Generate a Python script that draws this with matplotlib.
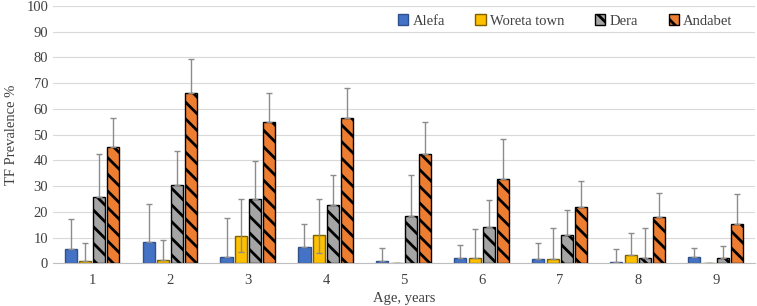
import matplotlib.pyplot as plt
import numpy as np

plt.rcParams['font.family'] = ['Liberation Serif', 'DejaVu Serif']
plt.rcParams['hatch.linewidth'] = 2.0

ages = [1, 2, 3, 4, 5, 6, 7, 8, 9]
series = ["Alefa", "Woreta town", "Dera", "Andabet"]

alefa = [5.6, 8.2, 2.5, 6.5, 0.8, 2.2, 1.8, 0.7, 2.4]
woreta = [1.0, 1.3, 10.7, 11.0, 0.0, 2.0, 1.8, 3.2, 0.0]
dera = [25.6, 30.3, 25.0, 22.5, 18.4, 14.1, 11.1, 2.2, 2.2]
andabet = [45.3, 66.0, 55.0, 56.5, 42.3, 32.7, 21.7, 18.1, 15.3]

# upper / lower limits of the error bars
alefa_hi = [17.2, 23.0, 17.6, 15.2, 6.0, 7.0, 7.8, 5.5, 5.9]
woreta_hi = [8.0, 9.0, 25.0, 25.0, 0.0, 13.2, 13.7, 11.6, 0.0]
dera_hi = [42.4, 43.5, 39.6, 34.3, 34.3, 24.4, 20.6, 13.6, 6.6]
andabet_hi = [56.3, 79.5, 66.0, 68.0, 54.7, 48.1, 32.1, 27.4, 26.8]
woreta_lo = [1.0, 1.3, 4.5, 4.0, 0.0, 2.0, 1.8, 3.2, 0.0]

values = [alefa, woreta, dera, andabet]
highs = [alefa_hi, woreta_hi, dera_hi, andabet_hi]
lows = [alefa, woreta_lo, dera, andabet]

colors = ["#4472C4", "#FFC000", "#A5A5A5", "#ED7D31"]
edges = ["#2F528F", "#7F6000", "black", "black"]
hatches = [None, None, "\\\\", "\\\\"]

fig = plt.figure(figsize=(7.57, 3.06), dpi=100)
ax = fig.add_axes([0.070, 0.1395, 0.927, 0.8415])

x = np.arange(len(ages))
w = 0.155
step = 0.183
for i in range(4):
    pos = x + (i - 1.5) * step
    v = np.array(values[i])
    hi = np.array(highs[i]) - v
    lo = v - np.array(lows[i])
    ax.bar(pos, v, width=w, color=colors[i], edgecolor=edges[i],
           linewidth=1.0, hatch=hatches[i], label=series[i], zorder=3)
    ax.errorbar(pos, v, yerr=[lo, hi], fmt="none", ecolor="#8C8C8C",
                elinewidth=1.0, capsize=2.5, capthick=1.0, zorder=4)

ax.set_xlim(-0.5, len(ages) - 0.5)
ax.set_ylim(0, 100)
ax.set_yticks(range(0, 101, 10))
ax.set_xticks(x)
ax.set_xticklabels([str(a) for a in ages])
ax.tick_params(axis="both", length=0, labelsize=10.5, colors="#404040")
ax.tick_params(axis="x", pad=8)
ax.grid(axis="y", color="#D9D9D9", linewidth=0.8, zorder=0)
for s in ["top", "right", "left"]:
    ax.spines[s].set_visible(False)
ax.spines["bottom"].set_color("#BFBFBF")
ax.spines["bottom"].set_zorder(5)

ax.set_xlabel("Age, years", fontsize=10.5, color="#404040", labelpad=3)
ax.set_ylabel("TF Prevalence %", fontsize=10.5, color="#404040", labelpad=6)

leg = ax.legend(loc="upper left", bbox_to_anchor=(0.4915, 0.967), ncol=4,
                frameon=False, fontsize=10.5, handlelength=0.7,
                handleheight=0.7, handletextpad=0.3, columnspacing=2.1,
                borderpad=0, borderaxespad=0)
for t in leg.get_texts():
    t.set_color("#404040")

fig.savefig("out.png", dpi=100)
